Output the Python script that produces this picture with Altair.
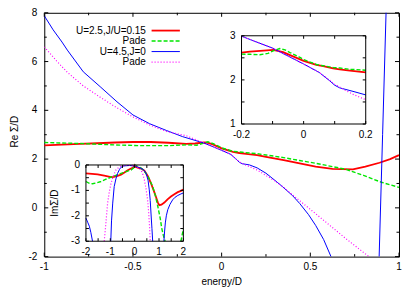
import altair as alt
import pandas as pd

# ---------------- data: main panel (Re Sigma / D) ----------------
red_x = [-1.0, -0.9, -0.8, -0.7, -0.6, -0.5, -0.4, -0.3, -0.2, -0.15, -0.1, -0.08, -0.05, 0.0,
         0.064, 0.1, 0.15, 0.2, 0.25, 0.35, 0.44, 0.53, 0.625, 0.68, 0.74, 0.81, 0.89, 0.95, 1.0]
red_y = [2.56, 2.59, 2.62, 2.65, 2.68, 2.70, 2.70, 2.67, 2.62, 2.64, 2.68, 2.67, 2.60, 2.44,
         2.30, 2.25, 2.20, 2.16, 2.09, 1.96, 1.82, 1.69, 1.60, 1.59, 1.58, 1.69, 1.85, 2.00, 2.16]

green_x = [-1.0, -0.8, -0.6, -0.45, -0.3, -0.2, -0.14, -0.1, -0.077, -0.044, 0.0, 0.063, 0.116,
           0.2, 0.25, 0.35, 0.44, 0.53, 0.625, 0.7, 0.8, 0.9, 1.0]
green_y = [2.68, 2.64, 2.58, 2.55, 2.55, 2.585, 2.57, 2.66, 2.71, 2.62, 2.46, 2.32, 2.28,
           2.22, 2.17, 2.06, 1.94, 1.83, 1.69, 1.58, 1.33, 1.05, 0.84]

blue_x = [-1.0, -0.95, -0.9, -0.87, -0.78, -0.685, -0.59, -0.5, -0.406, -0.31, -0.22, -0.124,
          -0.1, 0.0, 0.052, 0.084, 0.1, 0.116, 0.157, 0.2, 0.25, 0.3, 0.343, 0.4, 0.44, 0.49,
          0.53, 0.575, 0.616, 0.7, 0.8, 0.877, 0.888, 0.9075, 0.927, 0.94]
blue_y = [7.88, 7.30, 6.80, 6.47, 5.58, 4.97, 4.35, 3.81, 3.45, 3.17, 2.92, 2.71,
          2.66, 2.36, 2.19, 1.98, 1.87, 1.81, 1.76, 1.64, 1.42, 1.13, 0.87, 0.50, 0.18, -0.28,
          -0.72, -1.30, -1.99, -3.5, -7.0, -5.0, -2.0, 3.0, 8.0, 11.3]

magenta_x = [-1.0, -0.93, -0.87, -0.78, -0.685, -0.59, -0.5, -0.4, -0.31, -0.2, -0.1, 0.0,
             0.052, 0.084, 0.1, 0.13, 0.16, 0.2, 0.25, 0.3, 0.343, 0.4, 0.53, 0.6, 0.7, 0.83, 0.9]
magenta_y = [6.6, 6.02, 5.56, 5.0, 4.54, 4.1, 3.73, 3.38, 3.13, 2.96, 2.66, 2.36,
             2.19, 2.0, 1.88, 1.78, 1.68, 1.55, 1.33, 1.1, 0.88, 0.53, -0.24, -0.66, -1.26, -2.0, -2.4]

# ---------------- data: upper inset (zoom of Re Sigma / D) ----------------
i1_red_x = [-0.2, -0.173, -0.14, -0.098, -0.066, -0.04, 0.0, 0.041, 0.063, 0.095, 0.116, 0.149, 0.2]
i1_red_y = [2.62, 2.64, 2.66, 2.68, 2.63, 2.55, 2.43, 2.34, 2.31, 2.26, 2.24, 2.21, 2.17]

i1_green_x = [-0.2, -0.173, -0.141, -0.115, -0.098, -0.077, -0.06, -0.044, -0.012, 0.0, 0.041,
              0.063, 0.095, 0.116, 0.149, 0.2]
i1_green_y = [2.585, 2.58, 2.57, 2.60, 2.66, 2.71, 2.68, 2.62, 2.51, 2.46, 2.35,
              2.32, 2.28, 2.27, 2.24, 2.22]

i1_blue_x = [-0.2, -0.1, 0.0, 0.05, 0.084, 0.1, 0.116, 0.159, 0.2]
i1_blue_y = [2.99, 2.72, 2.36, 2.17, 1.98, 1.88, 1.82, 1.74, 1.66]

i1_mag_x = [-0.2, -0.1, 0.0, 0.05, 0.084, 0.1, 0.13, 0.16, 0.2]
i1_mag_y = [2.99, 2.72, 2.36, 2.17, 1.99, 1.90, 1.78, 1.67, 1.55]

# ---------------- data: lower inset (Im Sigma / D) ----------------
i2_red_x = [-2.0, -1.75, -1.52, -1.25, -0.97, -0.85, -0.7, -0.56, -0.42, -0.3, -0.15, -0.05, 0.0,
            0.05, 0.12, 0.25, 0.4, 0.55, 0.67, 0.78, 0.88, 0.95, 1.01, 1.1, 1.22, 1.35, 1.49,
            1.63, 1.77, 1.9, 2.0]
i2_red_y = [-0.33, -0.35, -0.37, -0.42, -0.48, -0.47, -0.43, -0.38, -0.30, -0.22, -0.14, -0.10, -0.01,
            -0.08, -0.10, -0.13, -0.22, -0.45, -0.72, -1.00, -1.27, -1.47, -1.58, -1.56, -1.48, -1.35, -1.24,
            -1.15, -1.07, -1.02, -0.97]

i2_green_x = [-2.0, -1.86, -1.73, -1.55, -1.38, -1.2, -0.97, -0.75, -0.56, -0.35, -0.15, -0.05, 0.0,
              0.1, 0.19, 0.3, 0.47, 0.6, 0.74, 0.85, 0.95, 1.05, 1.11, 1.18, 1.25,
              1.9, 1.95, 2.0]
i2_green_y = [-0.65, -0.72, -0.74, -0.70, -0.65, -0.57, -0.48, -0.40, -0.33, -0.26, -0.20, -0.12, -0.01,
              -0.05, -0.08, -0.15, -0.33, -0.55, -0.85, -1.20, -1.63, -2.10, -2.48, -2.78, -3.0,
              -3.0, -2.75, -2.52]
i2_green_seg = [0] * 25 + [1] * 3

i2_blue_x = [-2.0, -1.93, -1.86, -1.8, -1.73,
             -0.98, -0.95, -0.9, -0.84, -0.77, -0.7, -0.62, -0.56, -0.45, -0.36, -0.2, -0.05, 0.0,
             0.1, 0.26, 0.38, 0.47, 0.55, 0.6, 0.64, 0.67, 0.71, 0.74,
             1.2, 1.23, 1.26, 1.3, 1.36, 1.45, 1.56, 1.66, 1.77, 1.9, 2.0]
i2_blue_y = [-2.09, -2.25, -2.41, -2.65, -3.0,
             -3.0, -2.2, -1.5, -0.85, -0.55, -0.33, -0.17, -0.09, -0.04, -0.03, -0.02, -0.04, -0.01,
             -0.08, -0.13, -0.20, -0.33, -0.60, -0.98, -1.40, -1.89, -2.50, -3.0,
             -3.0, -2.6, -2.28, -2.0, -1.76, -1.55, -1.37, -1.27, -1.20, -1.14, -1.10]
i2_blue_seg = [0] * 5 + [1] * 23 + [2] * 11

i2_mag_x = [-1.25, -1.21, -1.18, -1.11, -1.04, -0.97, -0.87, -0.77, -0.66, -0.56, -0.4, -0.2, 0.0,
            0.1, 0.26, 0.33, 0.4, 0.47, 0.53, 0.57, 0.61, 0.64]
i2_mag_y = [-3.0, -2.6, -2.28, -1.5, -1.05, -0.72, -0.42, -0.20, -0.10, -0.04, -0.02, -0.02, -0.01,
            -0.06, -0.20, -0.35, -0.59, -0.95, -1.37, -1.80, -2.40, -3.0]

legend_labels = ["U=2.5,J/U=0.15", "Pade", "U=4.5,J=0", "Pade"]
main_xtitle, main_ytitle, inset2_ytitle = "energy/D", "Re Σ/D", "ImΣ/D"

# axis domains / tick values
main_xdom, main_ydom = [-1, 1], [-2, 8]
main_xlabels = [-1, -0.5, 0, 0.5, 1]
main_xminor = [-0.75, -0.25, 0.25, 0.75]
main_ylabels = [-2, 0, 2, 4, 6, 8]
main_yminor = [-1, 1, 3, 5, 7]

i1_xdom, i1_ydom = [-0.2, 0.2], [1, 3]
i1_xlabels, i1_xminor = [-0.2, 0, 0.2], [-0.1, 0.1]
i1_ylabels, i1_yminor = [1, 2, 3], [1.5, 2.5]

i2_xdom, i2_ydom = [-2, 2], [-3, 0]
i2_xlabels, i2_xminor = [-2, -1, 0, 1, 2], [-1.5, -0.5, 0.5, 1.5]
i2_ylabels, i2_yminor = [-3, -2, -1, 0], [-2.5, -1.5, -0.5]

# ---------------- styles / layout ----------------
W, H = 355, 244
FONT = "Liberation Sans"
FS = 10
C_RED, C_GREEN, C_BLUE, C_MAG = "#ff0000", "#00e600", "#0000ff", "#ff00ff"
ST = {
    "red": dict(color=C_RED, strokeWidth=1.8),
    "green": dict(color=C_GREEN, strokeWidth=1.4, strokeDash=[4, 2]),
    "blue": dict(color=C_BLUE, strokeWidth=1.0),
    "mag": dict(color=C_MAG, strokeWidth=1.2, strokeDash=[1, 2]),
}

# pixel rectangles of the insets inside the plot area
I1 = dict(left=197.4, right=321.7, top=23.0, bottom=111.3)
I2 = dict(left=41.7, right=139.2, top=152.3, bottom=228.6)
MBOX = dict(left=0, right=W, top=0, bottom=H)


def df_xy(x, y, seg=None):
    return pd.DataFrame({"x": x, "y": y, "seg": seg if seg is not None else [0] * len(x)})


def line_layer(x, y, style, xs, ys, seg=None, clip=False):
    return alt.Chart(df_xy(x, y, seg)).mark_line(clip=clip, **ST[style]).encode(
        x=alt.X("x:Q", scale=xs, axis=None),
        y=alt.Y("y:Q", scale=ys, axis=None),
        detail="seg:N",
    )


def tick_layers(xvals, yvals, xs, ys, box):
    out = []
    for vals, L in xvals:
        d = pd.DataFrame({"t": vals})
        out.append(alt.Chart(d).mark_rule(color="black", strokeWidth=1).encode(
            x=alt.X("t:Q", scale=xs, axis=None),
            y=alt.value(box["bottom"]), y2=alt.value(box["bottom"] - L)))
        out.append(alt.Chart(d).mark_rule(color="black", strokeWidth=1).encode(
            x=alt.X("t:Q", scale=xs, axis=None),
            y=alt.value(box["top"]), y2=alt.value(box["top"] + L)))
    for vals, L in yvals:
        d = pd.DataFrame({"t": vals})
        out.append(alt.Chart(d).mark_rule(color="black", strokeWidth=1).encode(
            y=alt.Y("t:Q", scale=ys, axis=None),
            x=alt.value(box["left"]), x2=alt.value(box["left"] + L)))
        out.append(alt.Chart(d).mark_rule(color="black", strokeWidth=1).encode(
            y=alt.Y("t:Q", scale=ys, axis=None),
            x=alt.value(box["right"]), x2=alt.value(box["right"] - L)))
    return out


def lab_df(vals):
    return pd.DataFrame({"t": vals, "lab": [f"{v:g}" for v in vals]})


def xlabel_layer(vals, xs, ypix):
    return alt.Chart(lab_df(vals)).mark_text(font=FONT, fontSize=FS, color="black",
                                             align="center", baseline="middle").encode(
        x=alt.X("t:Q", scale=xs, axis=None), y=alt.value(ypix), text="lab:N")


def ylabel_layer(vals, ys, xpix):
    return alt.Chart(lab_df(vals)).mark_text(font=FONT, fontSize=FS, color="black",
                                             align="right", baseline="middle").encode(
        y=alt.Y("t:Q", scale=ys, axis=None), x=alt.value(xpix), text="lab:N")


def title_layer(text, xpix, ypix, angle=0):
    return alt.Chart(pd.DataFrame({"lab": [text]})).mark_text(
        font=FONT, fontSize=FS, color="black", align="center", baseline="middle", angle=angle
    ).encode(x=alt.value(xpix), y=alt.value(ypix), text="lab:N")


def frame_layers(xs, ys, xdom, ydom):
    d = pd.DataFrame({"x0": [xdom[0]], "x1": [xdom[1]], "y0": [ydom[0]], "y1": [ydom[1]]})
    bg = alt.Chart(d).mark_rect(fill="white", strokeWidth=0).encode(
        x=alt.X("x0:Q", scale=xs, axis=None), x2="x1:Q",
        y=alt.Y("y0:Q", scale=ys, axis=None), y2="y1:Q")
    fr = alt.Chart(d).mark_rect(fill="transparent", stroke="black", strokeWidth=1).encode(
        x=alt.X("x0:Q", scale=xs, axis=None), x2="x1:Q",
        y=alt.Y("y0:Q", scale=ys, axis=None), y2="y1:Q")
    return bg, fr


# ---------------- main panel ----------------
mxs = alt.Scale(domain=main_xdom, nice=False, zero=False)
mys = alt.Scale(domain=main_ydom, nice=False, zero=False)

main_layers = [line_layer(red_x, red_y, "red", mxs, mys, clip=True),
               line_layer(green_x, green_y, "green", mxs, mys, clip=True),
               line_layer(blue_x, blue_y, "blue", mxs, mys, clip=True),
               line_layer(magenta_x, magenta_y, "mag", mxs, mys, clip=True)]
main_layers += tick_layers([(main_xlabels, 4), (main_xminor, 2.5)],
                           [(main_ylabels, 4), (main_yminor, 2.5)], mxs, mys, MBOX)
main_layers += [xlabel_layer(main_xlabels, mxs, H + 10),
                ylabel_layer(main_ylabels, mys, -7),
                title_layer(main_xtitle, W / 2, H + 25),
                title_layer(main_ytitle, -29, 119, angle=270)]

# legend (gnuplot style: label on the left, sample on the right)
leg_rows = [17.8, 28.3, 38.8, 49.3]
leg_styles = ["red", "green", "blue", "mag"]
for lab, ry, st in zip(legend_labels, leg_rows, leg_styles):
    d = pd.DataFrame({"label": [lab]})
    main_layers.append(alt.Chart(d).mark_text(align="right", baseline="middle", font=FONT,
                                              fontSize=FS, color="black").encode(
        x=alt.value(101.7), y=alt.value(ry), text="label:N"))
    main_layers.append(alt.Chart(d).mark_rule(**ST[st]).encode(
        x=alt.value(107.4), x2=alt.value(135.7), y=alt.value(ry)))

main = alt.layer(*main_layers)

# ---------------- upper inset ----------------
xs1 = alt.Scale(domain=i1_xdom, range=[I1["left"], I1["right"]], nice=False, zero=False)
ys1 = alt.Scale(domain=i1_ydom, range=[I1["bottom"], I1["top"]], nice=False, zero=False)
bg1, fr1 = frame_layers(xs1, ys1, i1_xdom, i1_ydom)
inset1 = alt.layer(
    bg1,
    line_layer(i1_red_x, i1_red_y, "red", xs1, ys1),
    line_layer(i1_green_x, i1_green_y, "green", xs1, ys1),
    line_layer(i1_blue_x, i1_blue_y, "blue", xs1, ys1),
    line_layer(i1_mag_x, i1_mag_y, "mag", xs1, ys1),
    *tick_layers([(i1_xlabels, 3), (i1_xminor, 3)], [(i1_ylabels, 3), (i1_yminor, 3)],
                 xs1, ys1, I1),
    fr1,
    xlabel_layer(i1_xlabels, xs1, I1["bottom"] + 11),
    ylabel_layer(i1_ylabels, ys1, I1["left"] - 6),
)

# ---------------- lower inset ----------------
xs2 = alt.Scale(domain=i2_xdom, range=[I2["left"], I2["right"]], nice=False, zero=False)
ys2 = alt.Scale(domain=i2_ydom, range=[I2["bottom"], I2["top"]], nice=False, zero=False)
bg2, fr2 = frame_layers(xs2, ys2, i2_xdom, i2_ydom)
inset2 = alt.layer(
    bg2,
    line_layer(i2_red_x, i2_red_y, "red", xs2, ys2),
    line_layer(i2_green_x, i2_green_y, "green", xs2, ys2, seg=i2_green_seg),
    line_layer(i2_blue_x, i2_blue_y, "blue", xs2, ys2, seg=i2_blue_seg),
    line_layer(i2_mag_x, i2_mag_y, "mag", xs2, ys2),
    *tick_layers([(i2_xlabels, 3), (i2_xminor, 3)], [(i2_ylabels, 3), (i2_yminor, 3)],
                 xs2, ys2, I2),
    fr2,
    xlabel_layer(i2_xlabels, xs2, I2["bottom"] + 10.5),
    ylabel_layer(i2_ylabels, ys2, I2["left"] - 6),
    title_layer(inset2_ytitle, 10.7, (I2["top"] + I2["bottom"]) / 2, angle=270),
)

chart = alt.layer(main, inset1, inset2).resolve_scale(
    x="independent", y="independent"
).properties(
    width=W, height=H,
    autosize=alt.AutoSizeParams(type="none"),
    padding={"left": 36.3, "top": 4.7, "right": 8, "bottom": 31},
).configure_view(stroke="black", strokeWidth=1)

chart.save("out.html", embed_options={"renderer": "svg", "actions": False})
